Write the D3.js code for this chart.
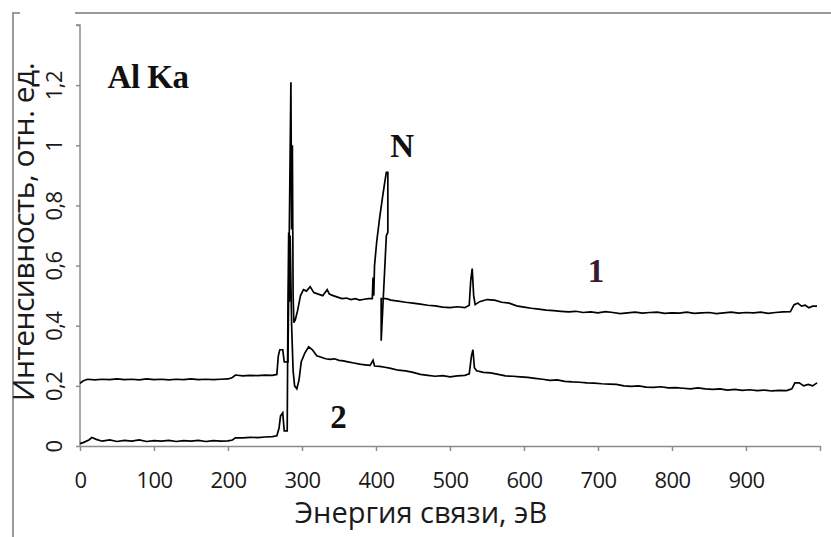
<!DOCTYPE html>
<html>
<head>
<meta charset="utf-8">
<script src="https://cdn.jsdelivr.net/npm/d3@7"></script>
<style>
  body { margin: 0; background: #fff; }
  svg { display: block; }
  .axis path, .axis line { stroke: #8c8c8c; stroke-width: 1.5; }
  .axis text { font-family: "Open Sans", sans-serif; fill: #1a1a1a; }
  .curve { fill: none; stroke: #000; stroke-width: 1.7; stroke-linejoin: miter; }
  .mark { font-family: "Liberation Serif", "Times New Roman", serif; font-weight: bold; }
</style>
</head>
<body>
<svg class="svg1" width="831" height="537"></svg>
<script>
// energy (eV), intensity (arb. units)
var curve1 = [
  [0,0.208],[4,0.216],[10,0.222],[20,0.220],[30,0.222],[40,0.221],[50,0.223],[60,0.221],
  [70,0.222],[80,0.220],[90,0.223],[100,0.221],[110,0.222],[120,0.220],[130,0.222],[140,0.221],
  [150,0.223],[160,0.221],[170,0.222],[180,0.221],[190,0.222],[200,0.223],[206,0.228],[210,0.236],
  [220,0.233],[230,0.235],[240,0.234],[250,0.236],[260,0.235],[266,0.238],[268,0.30],[270,0.32],
  [274,0.32],[276,0.28],[281,0.28],[283,0.75],[285,1.21],[286,0.72],[287,1.0],[288,0.50],
  [289,0.41],[291,0.42],[294,0.45],[298,0.50],[302,0.52],[306,0.515],[311,0.53],[316,0.51],
  [322,0.505],[328,0.50],[334,0.52],[337,0.505],[342,0.50],[348,0.495],[354,0.49],[360,0.492],
  [366,0.487],[372,0.49],[378,0.485],[384,0.488],[390,0.49],[395,0.49],[396,0.56],[397,0.50],
  [398,0.60],[401,0.68],[405,0.76],[409,0.83],[412,0.88],[414,0.91],[416,0.91],[416,0.71],
  [414,0.70],[407,0.35],[407,0.49],[414,0.49],[420,0.485],[430,0.482],[440,0.478],[450,0.475],
  [460,0.472],[470,0.468],[480,0.466],[490,0.462],[500,0.46],[510,0.463],[520,0.46],[526,0.468],
  [528,0.55],[530,0.59],[532,0.50],[534,0.47],[540,0.48],[550,0.487],[560,0.485],[570,0.478],
  [580,0.475],[590,0.466],[600,0.462],[610,0.458],[620,0.455],[630,0.452],[640,0.45],[650,0.448],
  [660,0.446],[670,0.448],[680,0.444],[690,0.446],[700,0.443],[710,0.447],[720,0.444],[730,0.44],
  [740,0.443],[750,0.445],[760,0.442],[770,0.444],[780,0.445],[790,0.441],[800,0.443],[810,0.442],
  [820,0.445],[830,0.441],[840,0.443],[850,0.444],[860,0.44],[870,0.443],[880,0.445],[890,0.442],
  [900,0.444],[910,0.443],[920,0.445],[930,0.441],[940,0.444],[950,0.446],[960,0.447],[965,0.47],
  [970,0.475],[975,0.465],[980,0.468],[985,0.46],[990,0.465],[996,0.465]
];

var curve2 = [
  [0,0.008],[5,0.012],[12,0.02],[16,0.028],[22,0.022],[30,0.016],[40,0.02],[50,0.015],
  [60,0.019],[70,0.016],[80,0.02],[90,0.015],[100,0.018],[110,0.016],[120,0.019],[130,0.015],
  [140,0.018],[150,0.016],[160,0.019],[170,0.015],[180,0.018],[190,0.016],[200,0.017],[206,0.02],
  [210,0.027],[220,0.027],[230,0.029],[240,0.028],[250,0.03],[260,0.031],[266,0.034],[269,0.06],
  [271,0.10],[274,0.11],[276,0.05],[280,0.05],[281,0.45],[282,0.71],[283,0.48],[284,0.70],
  [286,0.40],[288,0.25],[290,0.20],[293,0.19],[296,0.22],[299,0.28],[304,0.31],[309,0.33],
  [314,0.32],[320,0.30],[326,0.295],[332,0.29],[338,0.288],[344,0.29],[350,0.285],[356,0.283],
  [362,0.28],[370,0.276],[378,0.272],[385,0.27],[392,0.268],[396,0.285],[398,0.266],[405,0.265],
  [412,0.262],[420,0.258],[430,0.252],[440,0.25],[450,0.245],[460,0.238],[470,0.235],[480,0.232],
  [490,0.234],[500,0.23],[510,0.233],[520,0.235],[526,0.24],[529,0.30],[531,0.32],[533,0.26],
  [536,0.25],[545,0.245],[555,0.243],[565,0.238],[575,0.233],[585,0.232],[595,0.23],[605,0.228],
  [615,0.225],[625,0.222],[635,0.218],[645,0.22],[655,0.215],[665,0.213],[675,0.212],[685,0.21],
  [695,0.209],[705,0.207],[715,0.206],[725,0.205],[735,0.20],[745,0.198],[755,0.20],[765,0.196],
  [775,0.195],[785,0.197],[795,0.193],[805,0.194],[815,0.192],[825,0.19],[835,0.193],[845,0.19],
  [855,0.188],[865,0.19],[875,0.186],[885,0.188],[895,0.185],[905,0.187],[915,0.184],[925,0.186],
  [935,0.183],[945,0.185],[955,0.184],[962,0.19],[966,0.21],[972,0.21],[978,0.20],[984,0.205],
  [990,0.20],[996,0.21]
];

var xTicks = [0,100,200,300,400,500,600,700,800,900,1000],
    xTickLabels = ["0","100","200","300","400","500","600","700","800","900",""];
var yTicks = [0,0.2,0.4,0.6,0.8,1,1.2,1.4],
    yTickLabels = ["0","0,2","0,4","0,6","0,8","1","1,2",""];

// text marks on the plot, placed in data units
var marks = [
  {e: 92, v: 1.19, text: "Al Ka", color: "#111"},
  {e: 435, v: 0.96, text: "N", color: "#111"},
  {e: 697, v: 0.545, text: "1", color: "#3b1830"},
  {e: 349, v: 0.06, text: "2", color: "#111"}
];

var svg = d3.select(".svg1");

var x = d3.scaleLinear().domain([0, 1000]).range([80, 820]),
    y = d3.scaleLinear().domain([0, 1.4]).range([446, 25]);

// outer frame (partial border of the original figure)
svg.append("path")
    .attr("d", "M13,537V13H20M75,13H831")
    .attr("fill", "none")
    .attr("stroke", "#9a9a9a")
    .attr("stroke-width", 2);

var gx = svg.append("g")
    .attr("class", "axis")
    .attr("transform", "translate(0," + y(0) + ")")
    .call(d3.axisBottom(x).tickValues(xTicks).tickSize(5).tickSizeOuter(0)
      .tickFormat(function(d, i) { return xTickLabels[i]; }));
gx.selectAll("text")
    .attr("y", 42)
    .attr("dy", 0)
    .style("font-size", "22px")
    .style("letter-spacing", "-0.6px");

var gy = svg.append("g")
    .attr("class", "axis")
    .attr("transform", "translate(" + x(0) + ",0)")
    .call(d3.axisLeft(y).tickValues(yTicks).tickSize(4).tickSizeOuter(0)
      .tickFormat(function(d, i) { return yTickLabels[i]; }));
gy.selectAll("text")
    .attr("x", null).attr("dy", null)
    .attr("text-anchor", "middle")
    .attr("transform", "translate(-18,0) rotate(-90)")
    .style("font-size", "22px")
    .style("letter-spacing", "-0.6px");
gy.select(".domain").attr("d", "M-4," + y(1.4) + "H0V" + y(0));

svg.append("text")
    .attr("x", 421).attr("y", 523)
    .attr("text-anchor", "middle")
    .style("font-family", "'Open Sans', sans-serif")
    .style("font-size", "29px")
    .attr("fill", "#1a1a1a")
    .text("Энергия связи, эВ");

svg.append("text")
    .attr("transform", "translate(34,232) rotate(-90)")
    .attr("text-anchor", "middle")
    .style("font-family", "'Open Sans', sans-serif")
    .style("font-size", "30px")
    .style("letter-spacing", "-0.5px")
    .attr("fill", "#1a1a1a")
    .text("Интенсивность, отн. ед.");

var line = d3.line()
    .x(function(d) { return x(d[0]); })
    .y(function(d) { return y(d[1]); });

svg.selectAll(".curve")
    .data([curve1, curve2])
    .enter().append("path")
      .attr("class", "curve")
      .attr("d", line);

svg.selectAll(".mark")
    .data(marks)
    .enter().append("text")
      .attr("class", "mark")
      .attr("x", function(d) { return x(d.e); })
      .attr("y", function(d) { return y(d.v); })
      .attr("text-anchor", "middle")
      .attr("fill", function(d) { return d.color; })
      .style("font-size", "33px")
      .style("letter-spacing", "-0.5px")
      .text(function(d) { return d.text; });
</script>
</body>
</html>
